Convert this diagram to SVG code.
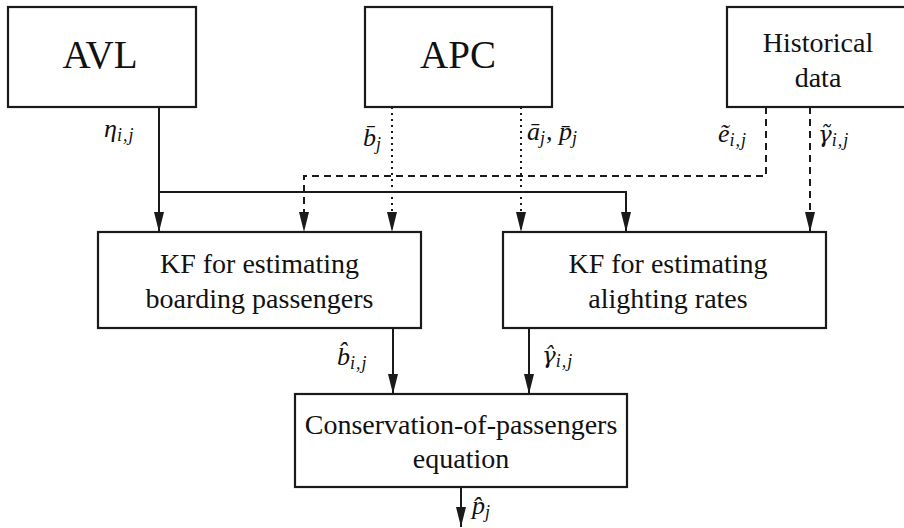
<svg xmlns="http://www.w3.org/2000/svg" width="904" height="528" viewBox="0 0 904 528">
<style>
.box{fill:#fff;stroke:#1a1a1a;stroke-width:2.2}
.t{font-family:"Liberation Serif","Times New Roman",serif;fill:#111;text-anchor:middle}
.big{font-size:39px}
.mid{font-size:28px}
.ln{fill:none;stroke:#1a1a1a;stroke-width:2}
.dash{stroke-dasharray:7 5}
.dot{stroke-dasharray:2 4}
.m{font-family:"Liberation Serif","DejaVu Serif",serif;font-style:italic;fill:#111;font-size:26px}
.s{font-size:18px;letter-spacing:1px}
.g{font-family:"DejaVu Serif",serif;font-size:23px}
</style>
<defs>
<marker id="ah" markerUnits="userSpaceOnUse" markerWidth="20" markerHeight="10" viewBox="0 0 20 10" refX="20" refY="5" orient="auto">
<path d="M0,0 L20,5 L0,10 z" fill="#1a1a1a"/>
</marker>
</defs>
<g id="connectors">
<path class="ln" d="M159,107 V232" marker-end="url(#ah)"/>
<path class="ln" d="M159,192 H626 V232" marker-end="url(#ah)"/>
<path class="ln dash" d="M766,107 V176 H304 V232" marker-end="url(#ah)"/>
<path class="ln dot" d="M392,107 V232" marker-end="url(#ah)"/>
<path class="ln dot" d="M521,107 V232" marker-end="url(#ah)"/>
<path class="ln dash" d="M810,107 V232" marker-end="url(#ah)"/>
<path class="ln" d="M393,328 V394" marker-end="url(#ah)"/>
<path class="ln" d="M529,328 V394" marker-end="url(#ah)"/>
<path class="ln" d="M461,487 V527" marker-end="url(#ah)"/>
</g>
<g id="labels">
<text class="m" x="104" y="137">η<tspan class="s" dy="4">i,j</tspan></text>
<text class="m" x="363" y="146">b̄<tspan class="s" dy="4">j</tspan></text>
<text class="m" x="527" y="140">ā<tspan class="s" dy="4">j</tspan><tspan dy="-4">, p̄</tspan><tspan class="s" dy="4">j</tspan></text>
<text class="m" x="718" y="142">ẽ<tspan class="s" dy="4">i,j</tspan></text>
<text class="m" x="818" y="142"><tspan class="g">γ̃</tspan><tspan class="s" dy="4">i,j</tspan></text>
<text class="m" x="337" y="365">b̂<tspan class="s" dy="4">i,j</tspan></text>
<text class="m" x="542" y="363"><tspan class="g">γ̂</tspan><tspan class="s" dy="4">i,j</tspan></text>
<text class="m" x="472" y="514">p̂<tspan class="s" dy="4">j</tspan></text>
</g>
<g id="avl">
<rect class="box" x="8" y="7" width="188" height="100"/>
<text class="t big" x="100" y="68">AVL</text>
</g>
<g id="apc">
<rect class="box" x="365" y="7" width="187" height="100"/>
<text class="t big" x="458" y="68">APC</text>
</g>
<g id="historical">
<rect class="box" x="727" y="7" width="185" height="100"/>
<text class="t mid" x="818" y="52">Historical</text>
<text class="t mid" x="818" y="87">data</text>
</g>
<g id="kf-boarding">
<rect class="box" x="98" y="232" width="323" height="96"/>
<text class="t mid" x="259.5" y="273">KF for estimating</text>
<text class="t mid" x="259.5" y="308">boarding passengers</text>
</g>
<g id="kf-alighting">
<rect class="box" x="503" y="232" width="323" height="96"/>
<text class="t mid" x="668" y="273">KF for estimating</text>
<text class="t mid" x="668" y="308">alighting rates</text>
</g>
<g id="conservation">
<rect class="box" x="295" y="394" width="332" height="93"/>
<text class="t mid" x="461" y="434">Conservation-of-passengers</text>
<text class="t mid" x="461" y="468">equation</text>
</g>
</svg>
